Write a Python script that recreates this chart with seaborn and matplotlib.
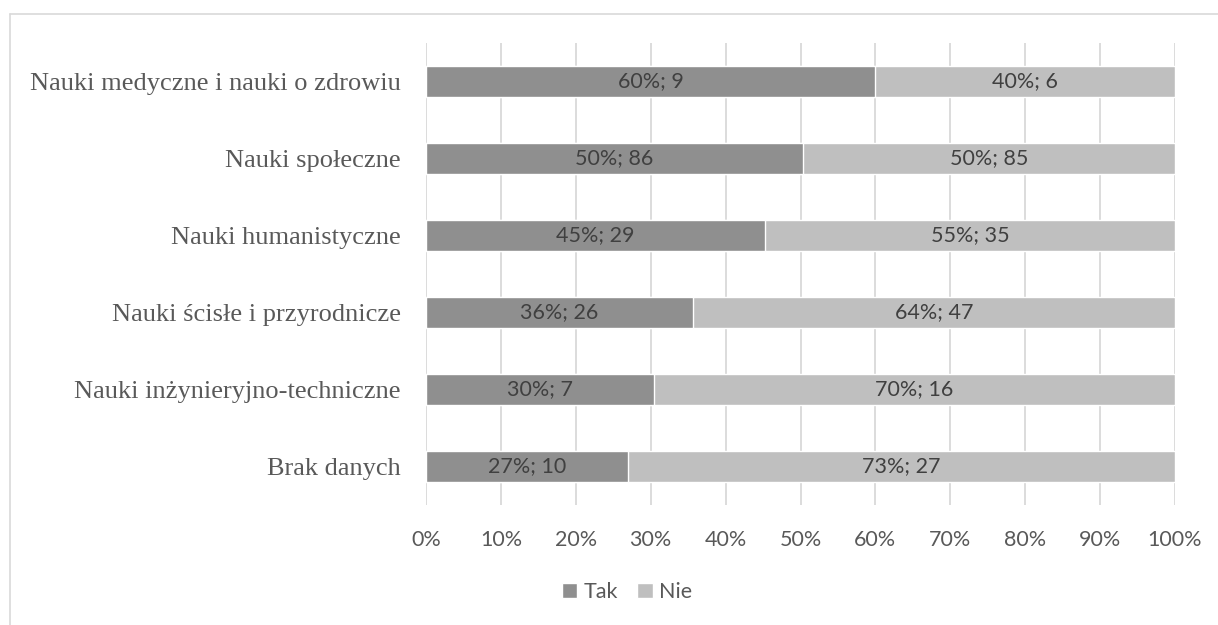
import matplotlib
matplotlib.use("Agg")
import matplotlib.pyplot as plt
from matplotlib.lines import Line2D
from matplotlib.patches import Patch
import seaborn as sns
import pandas as pd

categories = [
    "Nauki medyczne i nauki o zdrowiu",
    "Nauki społeczne",
    "Nauki humanistyczne",
    "Nauki ścisłe i przyrodnicze",
    "Nauki inżynieryjno-techniczne",
    "Brak danych",
]
tak_counts = [9, 86, 29, 26, 7, 10]
nie_counts = [6, 85, 35, 47, 16, 27]
series_names = ["Tak", "Nie"]
x_ticks = [0, 10, 20, 30, 40, 50, 60, 70, 80, 90, 100]

TAK_COLOR = "#8f8f8f"
NIE_COLOR = "#bfbfbf"
TEXT_COLOR = "#595959"
LABEL_COLOR = "#404040"
GRID_COLOR = "#d9d9d9"

df = pd.DataFrame({"kategoria": categories, "tak": tak_counts, "nie": nie_counts})
df["suma"] = df["tak"] + df["nie"]
df["tak_pct"] = df["tak"] / df["suma"] * 100
df["nie_pct"] = df["nie"] / df["suma"] * 100
df["cum_pct"] = df["tak_pct"] + df["nie_pct"]

sns.set_theme(style="white")
plt.rcParams["font.family"] = ["Lato", "DejaVu Sans"]

fig = plt.figure(figsize=(12.18, 6.25), dpi=100)
ax = fig.add_axes([426 / 1218, 1 - 505 / 625, (1175 - 426) / 1218, 462 / 625])

bar_h = 0.40
sns.barplot(data=df, x="cum_pct", y="kategoria", color=NIE_COLOR, width=bar_h,
            orient="h", ax=ax, saturation=1, zorder=2)
sns.barplot(data=df, x="tak_pct", y="kategoria", color=TAK_COLOR, width=bar_h,
            orient="h", ax=ax, saturation=1, zorder=3)

for i, row in df.iterrows():
    ax.text(row["tak_pct"] / 2, i, f"{round(row['tak_pct']):.0f}%; {row['tak']}",
            ha="center", va="center", fontsize=15.5, color=LABEL_COLOR, zorder=4)
    ax.text(row["tak_pct"] + row["nie_pct"] / 2, i, f"{round(row['nie_pct']):.0f}%; {row['nie']}",
            ha="center", va="center", fontsize=15.5, color=LABEL_COLOR, zorder=4)

ax.set_xlim(0, 100)
ax.set_ylim(len(categories) - 0.5, -0.5)
ax.set_xticks(x_ticks)
ax.set_xticklabels([f"{t}%" for t in x_ticks], fontsize=15.5, color=TEXT_COLOR)
ax.tick_params(axis="x", length=0, pad=18)
ax.tick_params(axis="y", length=0, pad=18)
ax.set_yticks(range(len(categories)))
ax.set_yticklabels(categories, fontsize=19, color=TEXT_COLOR, family="Liberation Serif")
ax.set_xlabel("")
ax.set_ylabel("")
ax.xaxis.grid(True, color=GRID_COLOR, linewidth=1.3, zorder=0)
ax.set_axisbelow(True)
for s in ax.spines.values():
    s.set_visible(False)

handles = [Patch(facecolor=TAK_COLOR, label=series_names[0]),
           Patch(facecolor=NIE_COLOR, label=series_names[1])]
fig.legend(handles=handles, loc="center", bbox_to_anchor=(627 / 1218, 1 - 592 / 625),
           ncol=2, frameon=False, fontsize=15.5, handlelength=0.72, handleheight=0.72,
           handletextpad=0.3, columnspacing=0.9, labelcolor=TEXT_COLOR)

# outer frame (top and left edges)
fig.add_artist(Line2D([10 / 1218, 1], [1 - 14 / 625, 1 - 14 / 625], color=GRID_COLOR,
                      linewidth=1.2, transform=fig.transFigure))
fig.add_artist(Line2D([10 / 1218, 10 / 1218], [0, 1 - 14 / 625], color=GRID_COLOR,
                      linewidth=1.2, transform=fig.transFigure))

fig.savefig("out.png", dpi=100, facecolor="white")
